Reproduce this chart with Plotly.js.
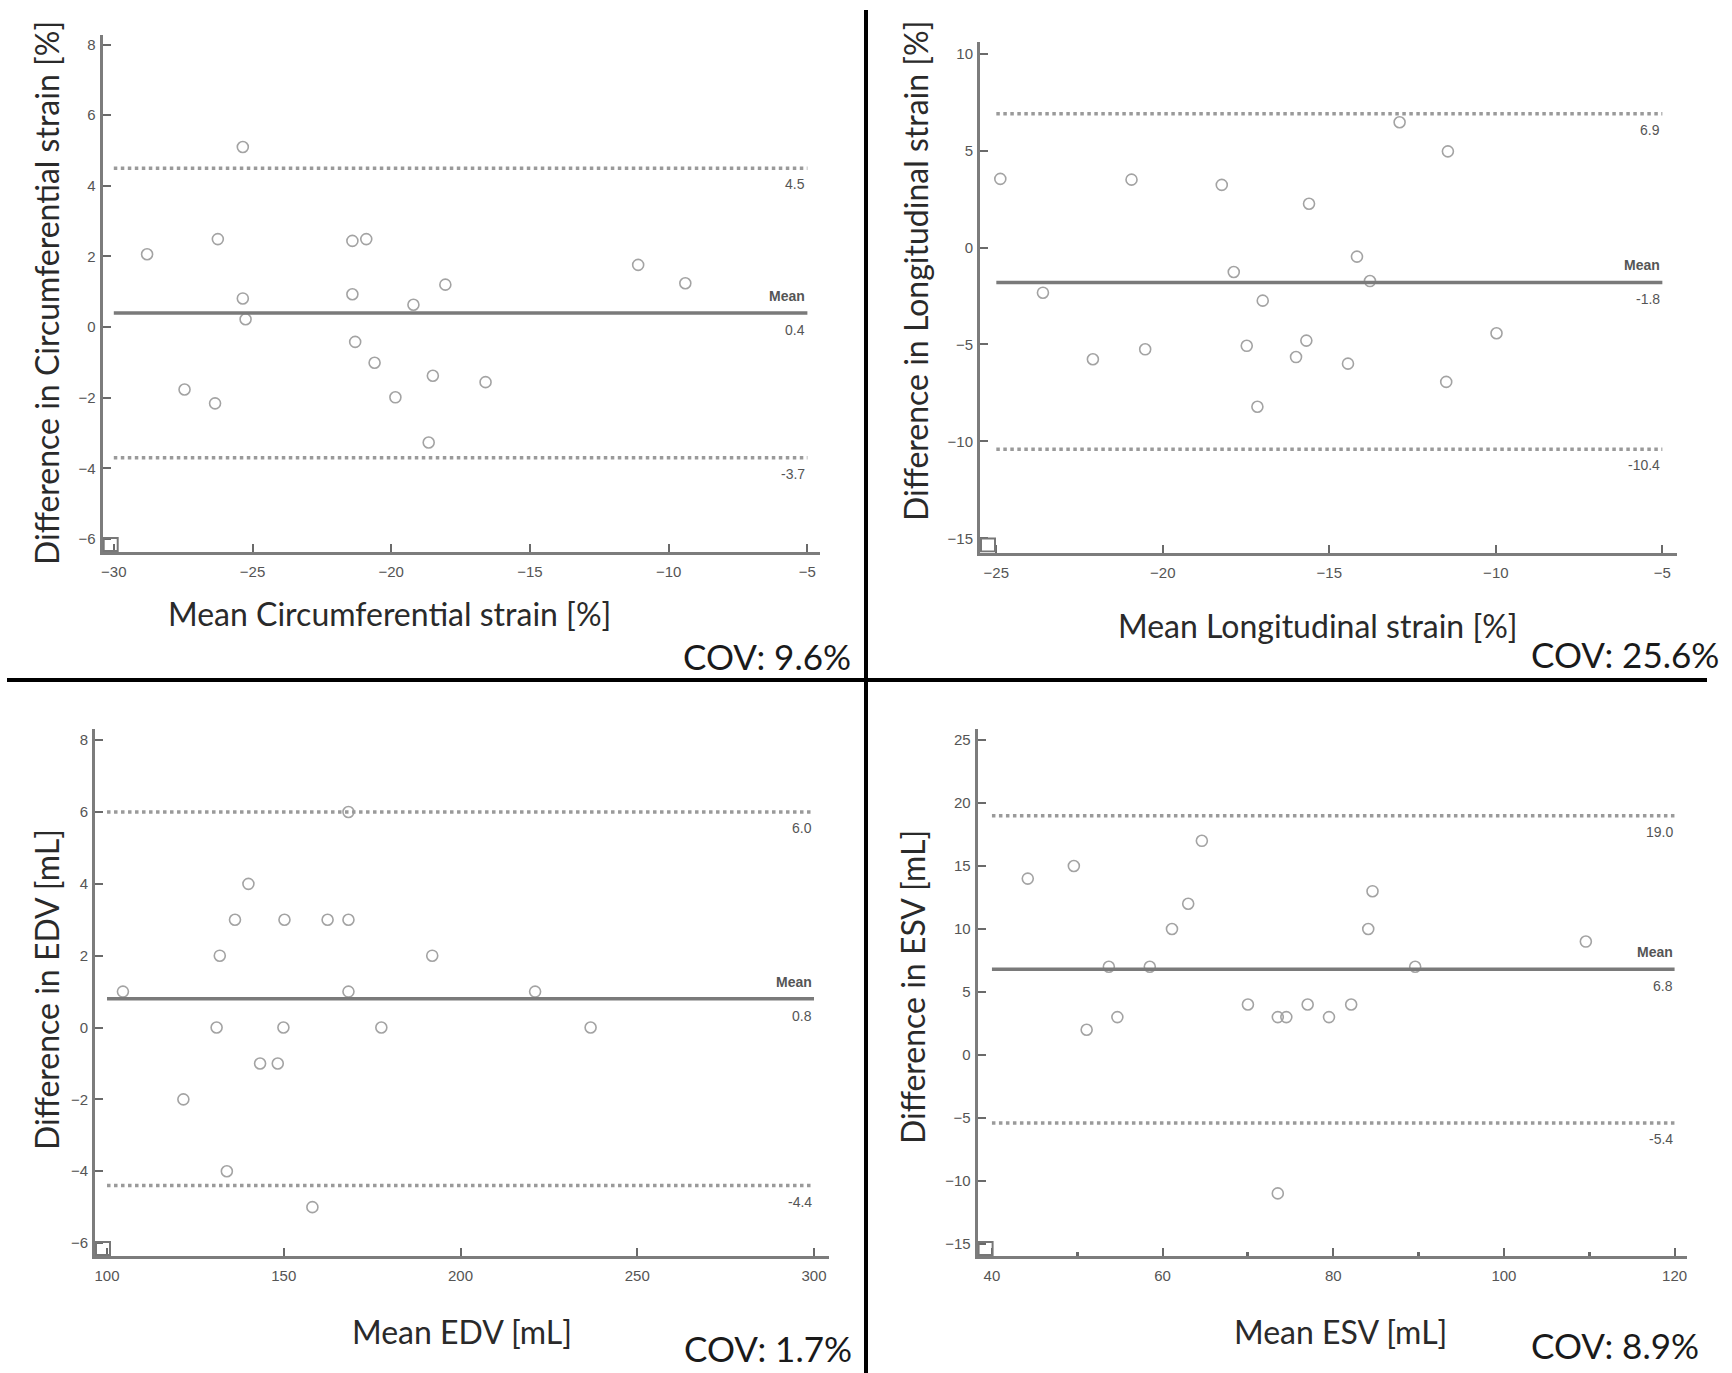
<!DOCTYPE html>
<html>
<head>
<meta charset="utf-8">
<script src="https://cdn.plot.ly/plotly-3.0.1.min.js"></script>
<style>
  html, body { margin: 0; padding: 0; background: #ffffff; }
  #chart { width: 1732px; height: 1373px; }
</style>
</head>
<body>
<div id="chart"></div>
<script>
// ---------------- DATA ----------------
// Panel A: circumferential strain
const circMean = [-28.8, -26.25, -25.35, -25.35, -25.25, -27.45, -26.35, -21.4, -20.9, -21.4,
                  -21.3, -20.6, -19.85, -19.2, -18.05, -18.5, -16.6, -18.65, -11.1, -9.4];
const circDiff = [2.06, 2.49, 5.10, 0.81, 0.22, -1.77, -2.16, 2.44, 2.49, 0.93,
                  -0.42, -1.01, -1.99, 0.63, 1.20, -1.38, -1.56, -3.27, 1.76, 1.24];
const circStats = {mean: 0.4, upper: 4.5, lower: -3.7};
const circStatLabels = ["0.4", "4.5", "-3.7"];
const circXTicks = [-30, -25, -20, -15, -10, -5];
const circYTicks = [-6, -4, -2, 0, 2, 4, 6, 8];

// Panel B: longitudinal strain
const longMean = [-24.88, -23.60, -22.10, -20.94, -20.53, -18.23, -17.87, -17.48, -17.00, -17.16,
                  -15.61, -16.00, -15.69, -14.44, -14.17, -13.78, -12.89, -11.44, -11.49, -9.98];
const longDiff = [3.54, -2.33, -5.76, 3.50, -5.25, 3.23, -1.26, -5.07, -2.74, -8.21,
                  2.26, -5.65, -4.80, -5.99, -0.47, -1.73, 6.46, 4.96, -6.93, -4.42];
const longStats = {mean: -1.8, upper: 6.9, lower: -10.4};
const longStatLabels = ["-1.8", "6.9", "-10.4"];
const longXTicks = [-25, -20, -15, -10, -5];
const longYTicks = [-15, -10, -5, 0, 5, 10];

// Panel C: EDV
const edvMean = [104.5, 121.6, 131.0, 131.9, 133.9, 136.2, 140.0, 143.3, 148.3, 149.9,
                 150.2, 158.1, 162.4, 168.3, 168.3, 168.3, 177.6, 192.0, 221.1, 236.8];
const edvDiff = [1, -2, 0, 2, -4, 3, 4, -1, -1, 0, 3, -5, 3, 3, 6, 1, 0, 2, 1, 0];
const edvStats = {mean: 0.8, upper: 6.0, lower: -4.4};
const edvStatLabels = ["0.8", "6.0", "-4.4"];
const edvXTicks = [100, 150, 200, 250, 300];
const edvYTicks = [-6, -4, -2, 0, 2, 4, 6, 8];

// Panel D: ESV
const esvMean = [44.2, 49.6, 51.1, 53.7, 54.7, 58.5, 61.1, 63.0, 64.6, 70.0,
                 73.5, 74.5, 73.5, 77.0, 79.5, 82.1, 84.1, 84.6, 89.6, 109.6];
const esvDiff = [14, 15, 2, 7, 3, 7, 10, 12, 17, 4, 3, 3, -11, 4, 3, 4, 10, 13, 7, 9];
const esvStats = {mean: 6.8, upper: 19.0, lower: -5.4};
const esvStatLabels = ["6.8", "19.0", "-5.4"];
const esvXTicks = [40, 60, 80, 100, 120];
const esvYTicks = [-15, -10, -5, 0, 5, 10, 15, 20, 25];

const xTitles = ["Mean Circumferential strain [%]", "Mean Longitudinal strain [%]", "Mean EDV [mL]", "Mean ESV [mL]"];
const yTitles = ["Difference in Circumferential strain [%]", "Difference in Longitudinal strain [%]", "Difference in EDV [mL]", "Difference in ESV [mL]"];
const covTexts = ["COV: 9.6%", "COV: 25.6%", "COV: 1.7%", "COV: 8.9%"];
const meanWord = "Mean";

// ---------------- LAYOUT GEOMETRY ----------------
const W = 1732, H = 1373;
const px = v => v / W;
const py = v => 1 - v / H;

const panels = [
  {x: circMean, y: circDiff, s: circStats, sl: circStatLabels, xt: circXTicks, yt: circYTicks,
   xr: [-30.40, -4.56], yr: [-6.37, 8.27], dx: [102.7, 819.6], dy: [35, 552],
   xTitlePos: [389, 613], yTitlePos: [46, 293], covPos: [853, 656]},
  {x: longMean, y: longDiff, s: longStats, sl: longStatLabels, xt: longXTicks, yt: longYTicks,
   xr: [-25.49, -4.56], yr: [-15.73, 10.60], dx: [980, 1677], dy: [42, 552.5],
   xTitlePos: [1318, 625], yTitlePos: [915, 271], covPos: [1721, 654]},
  {x: edvMean, y: edvDiff, s: edvStats, sl: edvStatLabels, xt: edvXTicks, yt: edvYTicks,
   xr: [96.6, 304.1], yr: [-6.36, 8.31], dx: [95, 828.5], dy: [729, 1256],
   xTitlePos: [462, 1331], yTitlePos: [46, 990], covPos: [854, 1348]},
  {x: esvMean, y: esvDiff, s: esvStats, sl: esvStatLabels, xt: esvXTicks, yt: esvYTicks,
   xr: [38.32, 121.42], yr: [-15.97, 25.88], dx: [977.6, 1686.7], dy: [729, 1256],
   xTitlePos: [1340, 1331], yTitlePos: [912, 987], covPos: [1701, 1345], minor: 10}
];

const traces = [];
const annotations = [];
const shapes = [];
const layout = {
  width: W, height: H,
  margin: {l: 0, r: 0, t: 0, b: 0},
  paper_bgcolor: "#ffffff",
  plot_bgcolor: "#ffffff",
  showlegend: false,
  font: {family: "Lato, 'Liberation Sans', sans-serif", color: "#333"}
};

const axisColor = "#7c7c7c";
const tickFont = {family: "'Liberation Sans', Arial, sans-serif", size: 15, color: "#555"};
const titleFont = {family: "Lato, sans-serif", size: 32, color: "#2a2a2a"};

panels.forEach((p, i) => {
  const n = i === 0 ? "" : String(i + 1);
  const xa = "x" + n, ya = "y" + n;
  const xStart = p.xt[0], xEnd = p.xt[p.xt.length - 1];

  // scatter points
  traces.push({
    type: "scatter", mode: "markers", x: p.x, y: p.y, xaxis: xa, yaxis: ya,
    marker: {symbol: "circle-open", size: 11, color: "#a3a3a3", line: {width: 1.6, color: "#a3a3a3"}},
    hoverinfo: "x+y"
  });
  // limits of agreement (dotted)
  [p.s.upper, p.s.lower].forEach(v => {
    traces.push({
      type: "scatter", mode: "lines", x: [xStart, xEnd], y: [v, v], xaxis: xa, yaxis: ya,
      line: {color: "#9a9a9a", width: 3.5, dash: "dot"}, hoverinfo: "skip"
    });
  });
  // mean line
  traces.push({
    type: "scatter", mode: "lines", x: [xStart, xEnd], y: [p.s.mean, p.s.mean], xaxis: xa, yaxis: ya,
    line: {color: "#7a7a7a", width: 3.5}, hoverinfo: "skip"
  });

  // line labels
  const lblFont = {family: "'Liberation Sans', Arial, sans-serif", size: 14, color: "#555"};
  annotations.push({xref: xa, yref: ya, x: xEnd, y: p.s.mean, text: "<b>" + meanWord + "</b>", showarrow: false,
    xanchor: "right", yanchor: "middle", yshift: 17, font: lblFont});
  annotations.push({xref: xa, yref: ya, x: xEnd, y: p.s.mean, text: p.sl[0], showarrow: false,
    xanchor: "right", yanchor: "middle", yshift: -17, font: lblFont});
  annotations.push({xref: xa, yref: ya, x: xEnd, y: p.s.upper, text: p.sl[1], showarrow: false,
    xanchor: "right", yanchor: "middle", yshift: -16, font: lblFont});
  annotations.push({xref: xa, yref: ya, x: xEnd, y: p.s.lower, text: p.sl[2], showarrow: false,
    xanchor: "right", yanchor: "middle", yshift: -16, font: lblFont});

  // axis titles
  annotations.push({xref: "paper", yref: "paper", x: px(p.xTitlePos[0]), y: py(p.xTitlePos[1]),
    text: xTitles[i], showarrow: false, xanchor: "center", yanchor: "middle", font: titleFont});
  annotations.push({xref: "paper", yref: "paper", x: px(p.yTitlePos[0]), y: py(p.yTitlePos[1]),
    text: yTitles[i], showarrow: false, xanchor: "center", yanchor: "middle", textangle: -90, font: titleFont});
  // COV
  annotations.push({xref: "paper", yref: "paper", x: px(p.covPos[0]), y: py(p.covPos[1]),
    text: covTexts[i], showarrow: false, xanchor: "right", yanchor: "middle",
    font: {family: "Lato, sans-serif", size: 35, color: "#1a1a1a"}});

  // corner box
  shapes.push({type: "rect", xref: xa, yref: ya, xsizemode: "pixel", ysizemode: "pixel",
    xanchor: p.xr[0], yanchor: p.yr[0], x0: 1, x1: 15, y0: 1, y1: 14,
    line: {color: "#777", width: 2}, fillcolor: "rgba(0,0,0,0)"});

  const common = {showline: true, linecolor: axisColor, linewidth: 3, ticks: "inside", ticklen: 8,
    tickwidth: 2, tickcolor: "#6a6a6a", showgrid: false, zeroline: false, tickfont: tickFont,
    fixedrange: true};
  layout["xaxis" + n] = Object.assign({}, common, {
    domain: [px(p.dx[0]), px(p.dx[1])], range: p.xr, anchor: ya,
    tickmode: "array", tickvals: p.xt, ticklabelstandoff: 4
  });
  if (p.minor) {
    layout["xaxis" + n].minor = {dtick: p.minor, tick0: p.xt[0], ticks: "inside", ticklen: 4, tickwidth: 3, tickcolor: "#6a6a6a"};
    layout["xaxis" + n].tickmode = "linear";
    layout["xaxis" + n].tick0 = p.xt[0];
    layout["xaxis" + n].dtick = p.xt[1] - p.xt[0];
    delete layout["xaxis" + n].tickvals;
  }
  layout["yaxis" + n] = Object.assign({}, common, {
    domain: [py(p.dy[1]), py(p.dy[0])], range: p.yr, anchor: xa,
    tickmode: "array", tickvals: p.yt, ticklabelstandoff: 1
  });
});

// quadrant dividers
shapes.push({type: "line", xref: "paper", yref: "paper", x0: px(866), x1: px(866), y0: py(10), y1: 0,
  line: {color: "#000", width: 4}});
shapes.push({type: "line", xref: "paper", yref: "paper", x0: px(7), x1: px(1707), y0: py(680), y1: py(680),
  line: {color: "#000", width: 4}});

layout.annotations = annotations;
layout.shapes = shapes;

Plotly.newPlot("chart", traces, layout, {displayModeBar: false, staticPlot: true});
</script>
</body>
</html>
